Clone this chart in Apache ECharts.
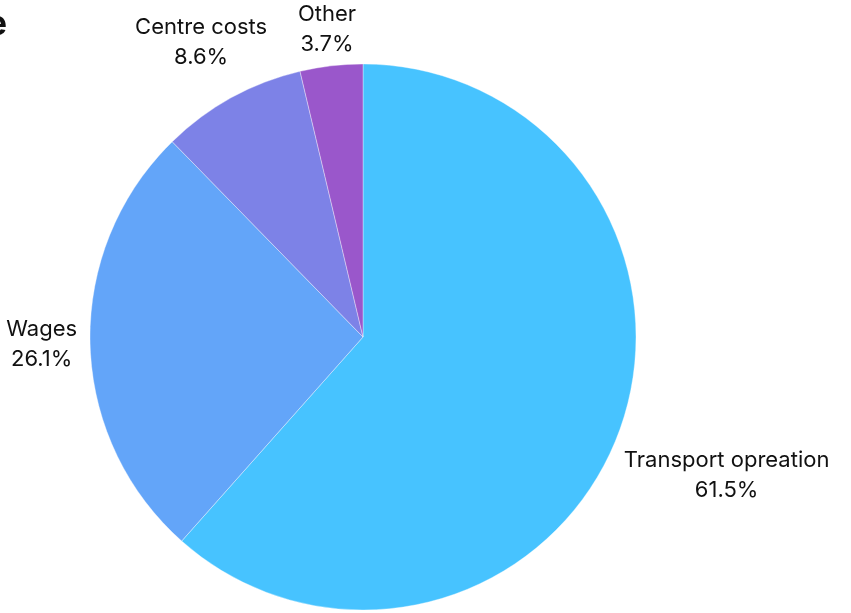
<!DOCTYPE html>
<html>
<head>
<meta charset="utf-8">
<script src="https://cdn.jsdelivr.net/npm/echarts@6/dist/echarts.min.js"></script>
<style>
html,body{margin:0;padding:0;background:#fff;}
#chart{width:851px;height:613px;}
</style>
</head>
<body>
<div id="chart"></div>
<script>
const categories = ['Transport opreation', 'Wages', 'Centre costs', 'Other'];
const values = [61.5, 26.1, 8.6, 3.7];
const colors = ['#47C3FF', '#63A5F9', '#7D82E7', '#9A57CB'];
const titleText = 'Cost structure';

const CX = 363, CY = 337, R = 273, GAP = 12.5, VK = 0.7;
const total = values.reduce((a, b) => a + b, 0);
const midAngles = [];
let acc = 0;
values.forEach(v => {
  const start = 90 - acc / total * 360;
  const end = 90 - (acc + v) / total * 360;
  midAngles.push((start + end) / 2 * Math.PI / 180);
  acc += v;
});

const chart = echarts.init(document.getElementById('chart'), null, {renderer: 'canvas'});
chart.setOption({
  animation: false,
  color: colors,
  textStyle: {fontFamily: 'Inter, Roboto, sans-serif'},
  graphic: [{
    type: 'text',
    right: 844,
    top: 8,
    style: {
      text: titleText,
      font: 'bold 34px Inter, Roboto, sans-serif',
      fill: '#111',
      textAlign: 'right'
    }
  }],
  series: [{
    type: 'pie',
    center: [CX, CY],
    radius: R,
    startAngle: 90,
    clockwise: true,
    avoidLabelOverlap: false,
    itemStyle: {borderColor: 'rgba(255,255,255,0.6)', borderWidth: 0.6},
    label: {
      show: true,
      position: 'outside',
      formatter: p => p.name + '\n' + p.value.toFixed(1) + '%',
      fontSize: 22,
      lineHeight: 30,
      color: '#111',
      fontFamily: 'Inter, Roboto, sans-serif'
    },
    labelLine: {show: false},
    labelLayout: function (params) {
      const a = midAngles[params.dataIndex];
      const dx = Math.cos(a), dy = -Math.sin(a);
      const hw = params.labelRect.width / 2, hh = params.labelRect.height / 2;
      const ext = Math.abs(hw * dx) + VK * Math.abs(hh * dy);
      const d = R + GAP + ext;
      return {
        x: CX + dx * d,
        y: CY + dy * d,
        align: 'center',
        verticalAlign: 'middle'
      };
    },
    data: categories.map((c, i) => ({name: c, value: values[i]}))
  }]
});
</script>
</body>
</html>
